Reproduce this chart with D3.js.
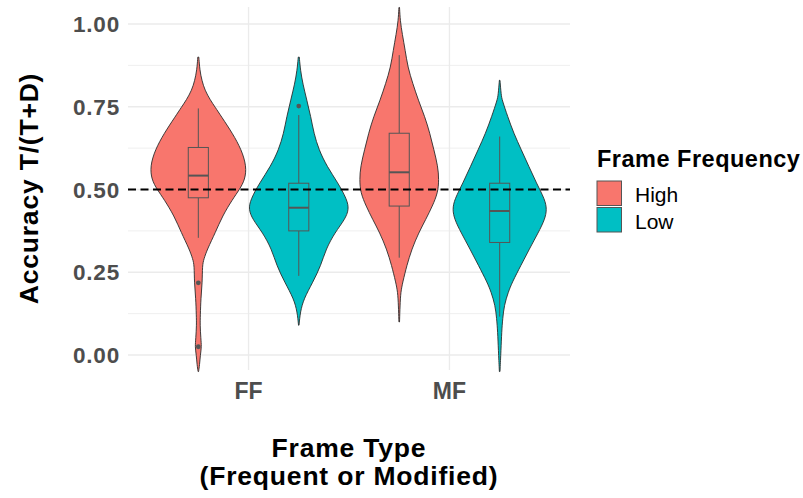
<!DOCTYPE html>
<html>
<head>
<meta charset="utf-8">
<script src="https://cdn.jsdelivr.net/npm/d3@7"></script>
<style>
  body { margin: 0; background: #fff; }
  text { font-family: "Liberation Sans", Arial, sans-serif; }
</style>
</head>
<body>
<div id="chart"></div>
<script>
// categories and groups
const frameTypes = ["FF", "MF"];
const frequencies = ["High", "Low"];
const fillColors = ["#F8766D", "#00BFC4"];
const yTicks = [0, 0.25, 0.5, 0.75, 1];
const yMinor = [0.125, 0.375, 0.625, 0.875];

// violin outlines: accuracy level and relative half width
const ffHighLevels = [0.90, 0.86, 0.83, 0.80, 0.77, 0.75, 0.72, 0.67, 0.62, 0.57, 0.53, 0.50, 0.47, 0.42, 0.37, 0.32, 0.29, 0.27, 0.22, 0.17, 0.12, 0.09, 0.05, 0.025, 0.0, -0.03, -0.05];
const ffHighWidths = [0.01, 0.03, 0.07, 0.13, 0.24, 0.33, 0.46, 0.68, 0.86, 0.96, 0.93, 0.82, 0.68, 0.48, 0.34, 0.18, 0.11, 0.08, 0.08, 0.05, 0.04, 0.035, 0.05, 0.065, 0.04, 0.025, 0.005];
const ffLowLevels = [0.90, 0.86, 0.82, 0.77, 0.72, 0.67, 0.62, 0.57, 0.52, 0.47, 0.44, 0.41, 0.37, 0.32, 0.27, 0.22, 0.17, 0.13, 0.09];
const ffLowWidths = [0.01, 0.034, 0.08, 0.16, 0.24, 0.30, 0.40, 0.56, 0.78, 0.96, 1.00, 0.92, 0.72, 0.54, 0.44, 0.28, 0.10, 0.03, 0.005];
const mfHighLevels = [1.05, 1.01, 0.97, 0.92, 0.87, 0.82, 0.77, 0.72, 0.67, 0.62, 0.57, 0.53, 0.49, 0.45, 0.41, 0.37, 0.32, 0.27, 0.22, 0.19, 0.15, 0.10];
const mfHighWidths = [0.006, 0.02, 0.06, 0.12, 0.17, 0.27, 0.38, 0.51, 0.61, 0.69, 0.77, 0.79, 0.77, 0.66, 0.53, 0.39, 0.25, 0.15, 0.07, 0.03, 0.016, 0.006];
const mfLowLevels = [0.83, 0.785, 0.77, 0.72, 0.67, 0.62, 0.57, 0.52, 0.47, 0.44, 0.41, 0.37, 0.32, 0.27, 0.22, 0.19, 0.15, 0.11, 0.07, 0.015, -0.05];
const mfLowWidths = [0.006, 0.03, 0.05, 0.16, 0.28, 0.43, 0.58, 0.73, 0.90, 0.94, 0.90, 0.77, 0.59, 0.42, 0.25, 0.17, 0.09, 0.06, 0.04, 0.026, 0.006];

// box plot summaries (same order: FF-High, FF-Low, MF-High, MF-Low)
const boxType = ["FF", "FF", "MF", "MF"];
const boxFreq = ["High", "Low", "High", "Low"];
const boxLower = [0.475, 0.375, 0.450, 0.340];
const boxMedian = [0.542, 0.445, 0.552, 0.435];
const boxUpper = [0.627, 0.519, 0.670, 0.519];
const whiskerLow = [0.354, 0.239, 0.294, 0.116];
const whiskerHigh = [0.745, 0.725, 0.906, 0.660];
const outliers = [[0.218, 0.025], [0.752], [], []];

const violinLevels = [ffHighLevels, ffLowLevels, mfHighLevels, mfLowLevels];
const violinWidths = [ffHighWidths, ffLowWidths, mfHighWidths, mfLowWidths];

const width = 803, height = 498;
const panel = { left: 128, right: 570, top: 7, bottom: 370 };

const svg = d3.select("#chart").append("svg")
    .attr("width", width)
    .attr("height", height);

svg.append("rect").attr("width", width).attr("height", height).attr("fill", "#fff");

const x = d3.scalePoint()
    .domain(frameTypes)
    .range([panel.left, panel.right])
    .padding(0.6);
const step = x.step();

const xGroup = d3.scaleBand()
    .domain(frequencies)
    .range([-step / 2, step / 2]);

const y = d3.scaleLinear()
    .domain([-0.0453, 1.0514])
    .range([panel.bottom, panel.top]);

const widthScale = d3.scaleLinear().domain([0, 1]).range([0, step * 0.25]);
const color = d3.scaleOrdinal().domain(frequencies).range(fillColors);

// grid
const grid = svg.append("g");
grid.selectAll(".minor")
    .data(yMinor)
    .join("line")
    .attr("x1", panel.left).attr("x2", panel.right)
    .attr("y1", d => y(d)).attr("y2", d => y(d))
    .attr("stroke", "#EBEBEB").attr("stroke-width", 0.8);
grid.selectAll(".major")
    .data(yTicks)
    .join("line")
    .attr("x1", panel.left).attr("x2", panel.right)
    .attr("y1", d => y(d)).attr("y2", d => y(d))
    .attr("stroke", "#EBEBEB").attr("stroke-width", 1.3);
grid.selectAll(".vmajor")
    .data(frameTypes)
    .join("line")
    .attr("x1", d => x(d)).attr("x2", d => x(d))
    .attr("y1", panel.top).attr("y2", panel.bottom)
    .attr("stroke", "#EBEBEB").attr("stroke-width", 1.3);

// violins
const violinData = boxType.map((t, i) => ({
    cx: x(t) + xGroup(boxFreq[i]) + xGroup.bandwidth() / 2,
    fill: color(boxFreq[i]),
    pts: violinLevels[i].map((v, j) => ({ v, w: violinWidths[i][j] }))
}));

const area = d3.area()
    .curve(d3.curveBasis)
    .y(d => y(d.v));

svg.append("g").selectAll("path")
    .data(violinData)
    .join("path")
    .attr("d", d => area
        .x0(p => d.cx - widthScale(p.w))
        .x1(p => d.cx + widthScale(p.w))(d.pts))
    .attr("fill", d => d.fill)
    .attr("stroke", "#2b2b2b")
    .attr("stroke-width", 0.9);

// box plots
const boxW = step * 0.1;
const boxes = svg.append("g").selectAll("g")
    .data(violinData)
    .join("g");

boxes.append("line")
    .attr("x1", d => d.cx).attr("x2", d => d.cx)
    .attr("y1", (d, i) => y(whiskerHigh[i])).attr("y2", (d, i) => y(boxUpper[i]))
    .attr("stroke", "#555").attr("stroke-width", 1);
boxes.append("line")
    .attr("x1", d => d.cx).attr("x2", d => d.cx)
    .attr("y1", (d, i) => y(boxLower[i])).attr("y2", (d, i) => y(whiskerLow[i]))
    .attr("stroke", "#555").attr("stroke-width", 1);
boxes.append("rect")
    .attr("x", d => d.cx - boxW / 2)
    .attr("width", boxW)
    .attr("y", (d, i) => y(boxUpper[i]))
    .attr("height", (d, i) => y(boxLower[i]) - y(boxUpper[i]))
    .attr("fill", d => d.fill)
    .attr("stroke", "#555").attr("stroke-width", 1);
boxes.append("line")
    .attr("x1", d => d.cx - boxW / 2).attr("x2", d => d.cx + boxW / 2)
    .attr("y1", (d, i) => y(boxMedian[i])).attr("y2", (d, i) => y(boxMedian[i]))
    .attr("stroke", "#555").attr("stroke-width", 2);
boxes.each(function(d, i) {
    d3.select(this).selectAll("circle")
        .data(outliers[i])
        .join("circle")
        .attr("cx", d.cx)
        .attr("cy", v => y(v))
        .attr("r", 2.4)
        .attr("fill", "#555");
});

// reference line at chance
svg.append("line")
    .attr("x1", panel.left).attr("x2", panel.right)
    .attr("y1", y(0.5)).attr("y2", y(0.5))
    .attr("stroke", "#000")
    .attr("stroke-width", 2.2)
    .attr("stroke-dasharray", "8,4.5");

// axis labels
svg.append("g").selectAll("text")
    .data(yTicks)
    .join("text")
    .attr("x", 120)
    .attr("y", d => y(d))
    .attr("dy", "0.36em")
    .attr("text-anchor", "end")
    .attr("font-size", 22.5)
    .attr("font-weight", "bold")
    .attr("letter-spacing", 0.8)
    .attr("fill", "#4D4D4D")
    .text(d => d3.format(".2f")(d));

svg.append("g").selectAll("text")
    .data(frameTypes)
    .join("text")
    .attr("x", d => x(d))
    .attr("y", 399)
    .attr("text-anchor", "middle")
    .attr("font-size", 23)
    .attr("font-weight", "bold")
    .attr("fill", "#4D4D4D")
    .text(d => d);

const xTitle = svg.append("text")
    .attr("x", (panel.left + panel.right) / 2)
    .attr("text-anchor", "middle")
    .attr("font-size", 26.5)
    .attr("font-weight", "bold")
    .attr("letter-spacing", 0.8)
    .attr("fill", "#000");
xTitle.append("tspan").attr("x", (panel.left + panel.right) / 2).attr("y", 457).text("Frame Type");
xTitle.append("tspan").attr("x", (panel.left + panel.right) / 2).attr("y", 485).text("(Frequent or Modified)");

svg.append("text")
    .attr("transform", `translate(38,${(panel.top + panel.bottom) / 2}) rotate(-90)`)
    .attr("text-anchor", "middle")
    .attr("font-size", 26.5)
    .attr("font-weight", "bold")
    .attr("letter-spacing", 0.8)
    .attr("fill", "#000")
    .text("Accuracy T/(T+D)");

// legend
const legend = svg.append("g").attr("transform", "translate(597,0)");
legend.append("text")
    .attr("x", 0).attr("y", 167)
    .attr("font-size", 23.5)
    .attr("font-weight", "bold")
    .attr("letter-spacing", 0.5)
    .text("Frame Frequency");
const keys = legend.selectAll(".key")
    .data(frequencies)
    .join("g")
    .attr("transform", (d, i) => `translate(0,${181 + i * 26.5})`);
keys.append("rect")
    .attr("width", 24.5).attr("height", 24.5)
    .attr("fill", d => color(d))
    .attr("stroke", "#555").attr("stroke-width", 1);
keys.append("text")
    .attr("x", 38).attr("y", 21)
    .attr("font-size", 21)
    .text(d => d);
</script>
</body>
</html>
